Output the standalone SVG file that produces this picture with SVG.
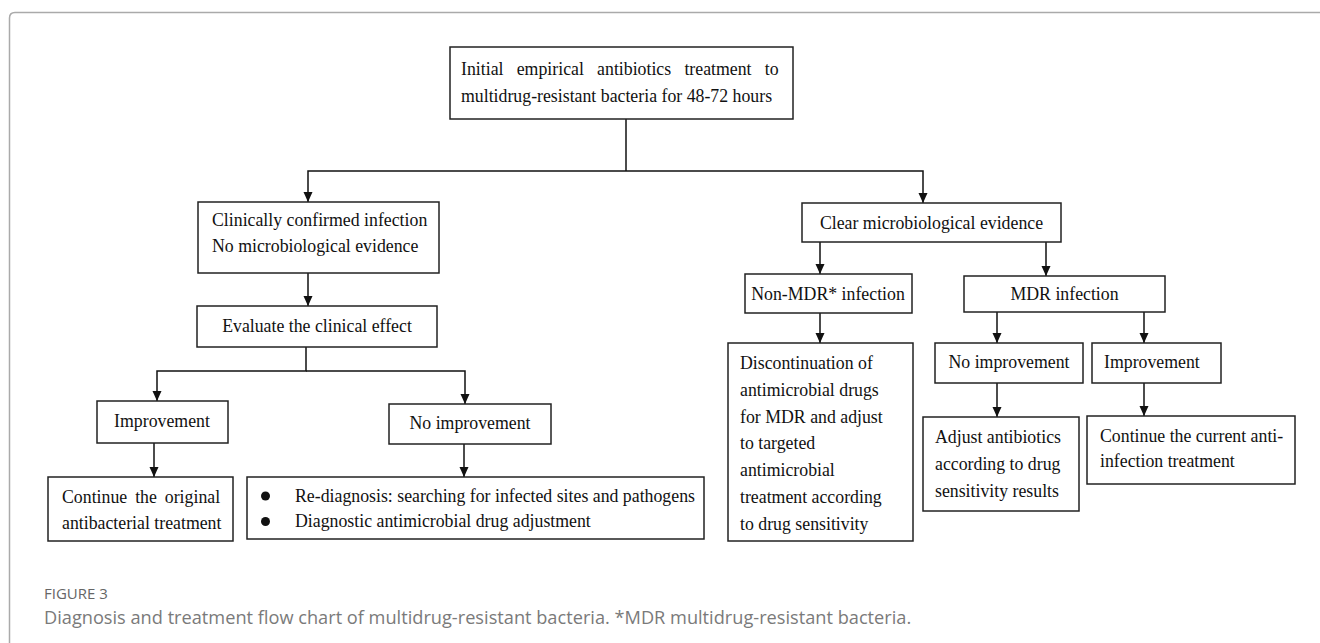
<svg xmlns="http://www.w3.org/2000/svg" width="1320" height="643" viewBox="0 0 1320 643">
<style>
.box{fill:#fff;stroke:#222;stroke-width:1.5}
.t{font-family:"Liberation Serif","Times New Roman",serif;font-size:17.8px;fill:#111}
.c{text-anchor:middle}
.conn path{fill:none;stroke:#111;stroke-width:1.5}
.cap1{font-family:"Open Sans","Noto Sans",sans-serif;font-size:15px;fill:#666}
.cap2{font-family:"Open Sans","Noto Sans",sans-serif;font-size:18.2px;fill:#7a7a7a}
</style>
<defs>
<marker id="ah" markerUnits="userSpaceOnUse" markerWidth="10" markerHeight="10" refX="10" refY="5" orient="auto">
<path d="M0,0.5 L10,5 L0,9.5 z" fill="#111"/>
</marker>
</defs>
<rect width="1320" height="643" fill="#fff"/>
<path d="M9.5 643 V18 Q9.5 12.5 15 12.5 H1320" fill="none" stroke="#aaa" stroke-width="1.5"/>

<g id="connectors" class="conn">
<path d="M626 119 V171"/>
<path d="M626 171 H308 V202" marker-end="url(#ah)"/>
<path d="M626 171 H923 V203" marker-end="url(#ah)"/>
<path d="M308 273 V306" marker-end="url(#ah)"/>
<path d="M306 347 V371 H157 V401" marker-end="url(#ah)"/>
<path d="M306 371 H465 V404" marker-end="url(#ah)"/>
<path d="M154 443 V477" marker-end="url(#ah)"/>
<path d="M464 444 V477" marker-end="url(#ah)"/>
<path d="M820 242 V274" marker-end="url(#ah)"/>
<path d="M1046 242 V276" marker-end="url(#ah)"/>
<path d="M820 313 V343" marker-end="url(#ah)"/>
<path d="M997 312 V343" marker-end="url(#ah)"/>
<path d="M1144 312 V343" marker-end="url(#ah)"/>
<path d="M997 383 V417" marker-end="url(#ah)"/>
<path d="M1144 383 V416" marker-end="url(#ah)"/>
</g>

<g id="n-initial">
<rect class="box" x="450" y="47" width="343" height="72"/>
<text class="t" x="461" y="75" word-spacing="8.8">Initial empirical antibiotics treatment to</text>
<text class="t" x="461" y="102">multidrug-resistant bacteria for 48-72 hours</text>
</g>

<g id="n-clinical">
<rect class="box" x="198" y="202" width="241" height="71"/>
<text class="t" x="212" y="226">Clinically confirmed infection</text>
<text class="t" x="212" y="252">No microbiological evidence</text>
</g>

<g id="n-evaluate">
<rect class="box" x="197" y="306" width="240" height="41"/>
<text class="t c" x="317" y="332">Evaluate the clinical effect</text>
</g>

<g id="n-improve-l">
<rect class="box" x="97" y="401" width="131" height="42"/>
<text class="t c" x="162" y="427">Improvement</text>
</g>

<g id="n-noimprove-l">
<rect class="box" x="389" y="404" width="162" height="40"/>
<text class="t c" x="470" y="429">No improvement</text>
</g>

<g id="n-continue-orig">
<rect class="box" x="48" y="477" width="185" height="64"/>
<text class="t" x="62" y="503" word-spacing="3.5">Continue the original</text>
<text class="t" x="62" y="529">antibacterial treatment</text>
</g>

<g id="n-rediagnosis">
<rect class="box" x="247" y="477" width="457" height="62"/>
<circle cx="265.5" cy="496" r="4.5" fill="#111"/>
<circle cx="265.5" cy="521.5" r="4.5" fill="#111"/>
<text class="t" x="295" y="502">Re-diagnosis: searching for infected sites and pathogens</text>
<text class="t" x="295" y="527">Diagnostic antimicrobial drug adjustment</text>
</g>

<g id="n-clear">
<rect class="box" x="802" y="203" width="259" height="39"/>
<text class="t c" x="931.5" y="229">Clear microbiological evidence</text>
</g>

<g id="n-nonmdr">
<rect class="box" x="745" y="274" width="167" height="39"/>
<text class="t c" x="828" y="300">Non-MDR* infection</text>
</g>

<g id="n-mdr">
<rect class="box" x="964" y="276" width="201" height="36"/>
<text class="t c" x="1064.5" y="300">MDR infection</text>
</g>

<g id="n-discontinue">
<rect class="box" x="728" y="343" width="185" height="198"/>
<text class="t" x="740" y="369">Discontinuation of</text>
<text class="t" x="740" y="395.8">antimicrobial drugs</text>
<text class="t" x="740" y="422.6">for MDR and adjust</text>
<text class="t" x="740" y="449.4">to targeted</text>
<text class="t" x="740" y="476.2">antimicrobial</text>
<text class="t" x="740" y="503">treatment according</text>
<text class="t" x="740" y="529.8">to drug sensitivity</text>
</g>

<g id="n-noimprove-r">
<rect class="box" x="935" y="343" width="148" height="40"/>
<text class="t c" x="1009" y="368">No improvement</text>
</g>

<g id="n-improve-r">
<rect class="box" x="1092" y="343" width="129" height="40"/>
<text class="t" x="1104" y="368">Improvement</text>
</g>

<g id="n-adjust">
<rect class="box" x="923" y="417" width="156" height="94"/>
<text class="t" x="935" y="443">Adjust antibiotics</text>
<text class="t" x="935" y="470">according to drug</text>
<text class="t" x="935" y="497">sensitivity results</text>
</g>

<g id="n-continue-cur">
<rect class="box" x="1087" y="416" width="208" height="68"/>
<text class="t" x="1100" y="442">Continue the current anti-</text>
<text class="t" x="1100" y="467">infection treatment</text>
</g>

<g id="caption">
<text class="cap1" x="44" y="599">FIGURE 3</text>
<text class="cap2" x="44" y="624">Diagnosis and treatment flow chart of multidrug-resistant bacteria. *MDR multidrug-resistant bacteria.</text>
</g>
</svg>
